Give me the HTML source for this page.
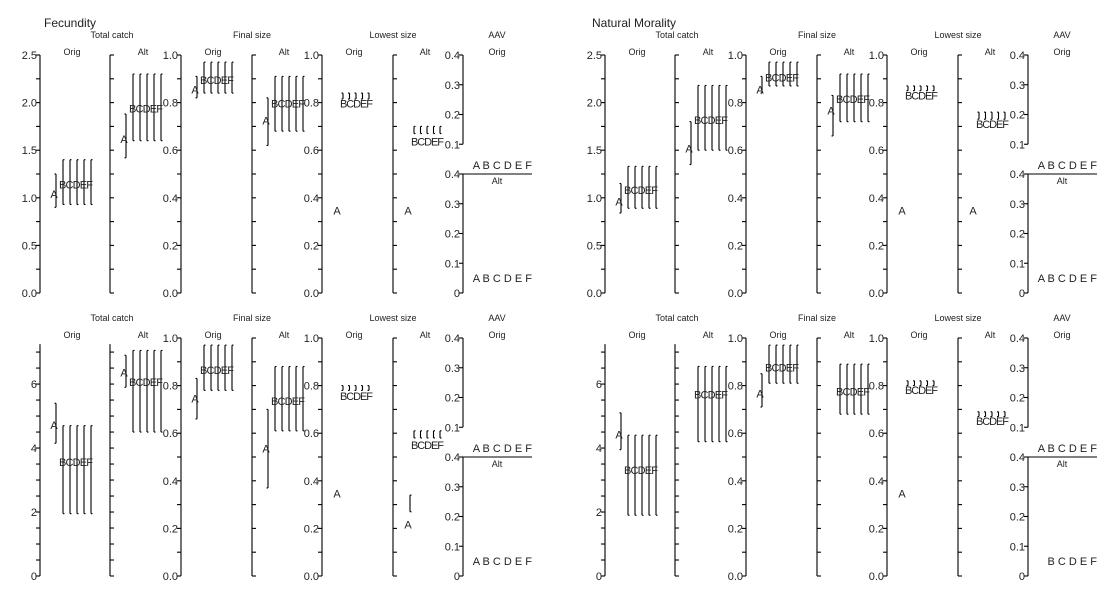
<!DOCTYPE html>
<html><head><meta charset="utf-8"><style>
html,body{margin:0;padding:0;background:#fff;width:1100px;height:600px;overflow:hidden}
svg text{font-family:"Liberation Sans",Arial,sans-serif;fill:#222}
</style></head><body>
<svg id="c" width="1100" height="600" xmlns="http://www.w3.org/2000/svg"></svg>
<script>
// panel order: fecundity-top, fecundity-bottom, natural-mortality-top, natural-mortality-bottom
const panelNames = ['fecundity-top','fecundity-bottom','natmort-top','natmort-bottom'];
const groupLetters = ['B','C','D','E','F'];
const tcTicksTop = [0,0.5,1,1.5,2,2.5];
const tcTickLabelsTop = ['0.0','0.5','1.0','1.5','2.0','2.5'];
const tcTicksBot = [0,2,4,6];
const tcTickLabelsBot = ['0','2','4','6'];
const fsTicks = [0,0.2,0.4,0.6,0.8,1.0];
const fsTickLabels = ['0.0','0.2','0.4','0.6','0.8','1.0'];
const aavTicks = [0,0.1,0.2,0.3,0.4];
const aavTickLabels = ['0','0.1','0.2','0.3','0.4'];
// [low, mid, high]
const tcOrigA = [[0.9,1.05,1.25],[4.15,4.75,5.4],[0.84,0.97,1.15],[3.95,4.45,5.1]];
const tcOrigB = [[0.93,1.15,1.4],[1.95,3.6,4.7],[0.89,1.09,1.33],[1.9,3.35,4.4]];
const tcAltA  = [[1.42,1.63,1.88],[5.9,6.4,6.9],[1.35,1.53,1.8],null];
const tcAltB  = [[1.6,1.95,2.3],[4.5,6.1,7.05],[1.5,1.83,2.18],[4.2,5.7,6.55]];
const fsOrigA = [[0.82,0.86,0.91],[0.66,0.75,0.83],[0.84,0.86,0.91],[0.71,0.77,0.85]];
const fsOrigB = [[0.84,0.9,0.97],[0.78,0.87,0.97],[0.87,0.91,0.97],[0.81,0.88,0.97]];
const fsAltA  = [[0.62,0.73,0.82],[0.37,0.54,0.7],[0.66,0.77,0.83],null];
const fsAltB  = [[0.68,0.8,0.91],[0.61,0.74,0.88],[0.72,0.82,0.92],[0.68,0.78,0.89]];
const lsOrigA = [0.35,0.35,0.35,0.35];
const lsOrigB = [[0.815,0.8,0.84],[0.78,0.76,0.8],[0.85,0.835,0.87],[0.8,0.785,0.82]];
const lsAltA  = [0.35,0.22,0.35,null];
const lsAltABar = [null,[0.27,0.34],null,null];
const lsAltB  = [[0.67,0.64,0.7],[0.58,0.555,0.61],[0.73,0.715,0.76],[0.67,0.655,0.69]];
const aavOrig = [0.03,0.03,0.03,0.03];
const aavAlt  = [0.05,0.05,0.05,0.05];
const aavOrigShowA = [true,true,true,true];
const aavAltShowA  = [true,true,true,false];

const svg = document.getElementById('c');
const NS = 'http://www.w3.org/2000/svg';
function mk(tag, attrs, parent){const e=document.createElementNS(NS,tag);for(const k in attrs)e.setAttribute(k,attrs[k]);(parent||svg).appendChild(e);return e;}
function txt(x,y,s,size,anchor,parent){const t=mk('text',{x:x,y:y,'font-size':size,'text-anchor':anchor||'start'},parent);t.textContent=s;return t;}
function ln(x1,y1,x2,y2,parent){return mk('line',{x1:x1,y1:y1,x2:x2,y2:y2,stroke:'#000','stroke-width':1.1},parent);}

function yScale(y0,y1,vmax){return v=>y0-(v/vmax)*(y0-y1);}

function axis(g,x,ys,vmin,vmax,step,labels,labTicks,left){
  ln(x,ys(vmax),x,ys(vmin),g);
  for(let v=vmin; v<=vmax+1e-9; v+=step){const y=ys(v); left?ln(x-4,y,x,y,g):ln(x,y,x+4,y,g);}
  if(labels){labTicks.forEach((v,i)=>{const t=txt(x-3,ys(v)+4,labels[i],11,'end',g);
    
    });}
}
function bar(g,x,lo,hi,ys,capDir){
  ln(x,ys(lo),x,ys(hi),g); ln(x,ys(lo),x+1.5*capDir,ys(lo),g); ln(x,ys(hi),x+1.5*capDir,ys(hi),g);
}
function groupBlock(g,ax,ys,a,b){
  const xA=ax+16;
  if(a){bar(g,xA,a[0],a[2],ys,-1);
    const t=txt(xA-2,ys(a[1])+5,'A',11,'middle',g);
    
    }
  if(b){for(let i=0;i<5;i++){bar(g,xA+7+i*7,b[0],b[2],ys,1);}
    const t=txt(xA+3,ys(b[1])+5,'BCDEF',11,'start',g);
    t.setAttribute('textLength','34');
    
    }
}
function smallBlock(g,ax,ys,aVal,aBar,b,capDir){
  const x0=ax+18;
  if(aVal!=null){const t=txt(ax+15,ys(aVal)+5,'A',11,'middle',g);
    
    }
  if(aBar){bar(g,ax+17,aBar[0],aBar[1],ys,1);}
  if(b){for(let i=0;i<5;i++){bar(g,x0+3+i*6.5,b[0],b[2],ys,capDir);}
    const t=txt(x0,ys(b[1])+5,'BCDEF',11,'start',g);
    t.setAttribute('textLength','33');
    
    }
}
function header(g,x,y,s,size,name){const t=txt(x,y,s,size,'middle',g);
  
  }

for(let p=0;p<4;p++){
  const ox = p<2?0:565;
  const bottom = p%2===1;
  const y0 = bottom?576:293, y1 = bottom?338:55;
  const g = mk('g',{});
  
  
  const hy = bottom?321:38, sy = bottom?338:55;
  header(g,ox+112,hy,'Total catch',9,'metric-title');
  header(g,ox+252,hy,'Final size',9,'metric-title');
  header(g,ox+393,hy,'Lowest size',9,'metric-title');
  header(g,ox+497,hy,'AAV',9,'metric-title');
  [[72,'Orig'],[143,'Alt'],[213,'Orig'],[284,'Alt'],[354,'Orig'],[425,'Alt'],[497,'Orig']].forEach(([x,s])=>header(g,ox+x,sy,s,9,'scenario-label'));
  const tcMax = bottom?7.44:2.5;
  const ysTC = yScale(y0,y1,tcMax);
  const tcTop = bottom?7.25:2.5;
  axis(g,ox+40,ysTC,0,tcTop,bottom?0.5:0.25,bottom?tcTickLabelsBot:tcTickLabelsTop,bottom?tcTicksBot:tcTicksTop,true);
  axis(g,ox+110,ysTC,0,tcTop,bottom?0.5:0.25,null,null,false);
  groupBlock(g,ox+40,ysTC,tcOrigA[p],tcOrigB[p]);
  groupBlock(g,ox+110,ysTC,tcAltA[p],tcAltB[p]);
  const ys1 = yScale(y0,y1,1);
  axis(g,ox+181,ys1,0,1,0.1,fsTickLabels,fsTicks,true);
  axis(g,ox+252,ys1,0,1,0.1,null,null,false);
  groupBlock(g,ox+181,ys1,fsOrigA[p],fsOrigB[p]);
  groupBlock(g,ox+252,ys1,fsAltA[p],fsAltB[p]);
  axis(g,ox+322,ys1,0,1,0.1,fsTickLabels,fsTicks,true);
  axis(g,ox+393,ys1,0,1,0.1,null,null,false);
  smallBlock(g,ox+322,ys1,lsOrigA[p],null,lsOrigB[p],-1);
  smallBlock(g,ox+393,ys1,lsAltA[p],lsAltABar[p],lsAltB[p],p===2||p===3?-1:1);
  const ym=(y0+y1)/2;
  const ysU = yScale(ym,y1,0.4), ysL = yScale(y0,ym,0.4);
  axis(g,ox+463,ysU,0.1,0.4,0.1,aavTickLabels.slice(1),aavTicks.slice(1),true);
  axis(g,ox+463,ysL,0,0.4,0.1,aavTickLabels,aavTicks,true);
  ln(ox+463,ym,ox+532,ym,g);
  header(g,ox+497,ym+10,'Alt',9,'scenario-label');
  const t1=txt(ox+532,ysU(aavOrig[p])+4,aavOrigShowA[p]?'A B C D E F':'B C D E F',11,'end',g);
  
  
  const t2=txt(ox+532,ysL(aavAlt[p])+4,aavAltShowA[p]?'A B C D E F':'B C D E F',11,'end',g);
  
  
}
const f=txt(44,27,'Fecundity',12,'start');


const n=txt(592,27,'Natural Morality',12,'start');


</script>
</body></html>
